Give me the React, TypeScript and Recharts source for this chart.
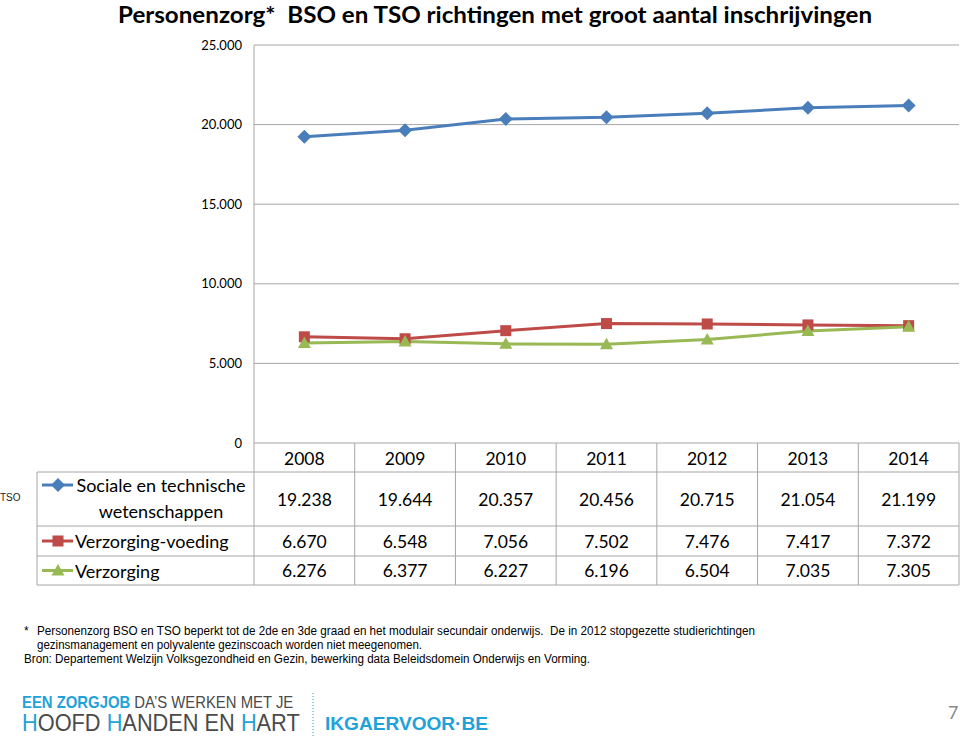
import React from "react";
import { LineChart, Line, XAxis, YAxis, CartesianGrid } from "recharts";

const years = ["2008", "2009", "2010", "2011", "2012", "2013", "2014"];
const socialeTechnische = [19238, 19644, 20357, 20456, 20715, 21054, 21199];
const verzorgingVoeding = [6670, 6548, 7056, 7502, 7476, 7417, 7372];
const verzorging = [6276, 6377, 6227, 6196, 6504, 7035, 7305];
const yTicks = [0, 5000, 10000, 15000, 20000, 25000];

const data = years.map((year, i) => ({
  year,
  sociale: socialeTechnische[i],
  voeding: verzorgingVoeding[i],
  verzorging: verzorging[i],
}));

const BLUE = "#4a7ebb";
const RED = "#be4b48";
const GREEN = "#98b954";
const GRID = "#a6a6a6";
const CYAN = "#1fa2d8";
const LOGO_GRAY = "#4a4a4a";
const FONT = "Lato, 'Open Sans', sans-serif";
const ARIAL = "'Liberation Sans', Arial, sans-serif";

const PLOT_LEFT = 254;
const PLOT_RIGHT = 959;
const PLOT_TOP = 45;
const PLOT_BOTTOM = 443;
const CHART_H = 460;
const colW = (PLOT_RIGHT - PLOT_LEFT) / years.length;

const fmt = (v: number) =>
  v === 0 ? "0" : `${Math.floor(v / 1000)}.${String(v % 1000).padStart(3, "0")}`;

const diamond = (cx: number, cy: number, color: string, key?: any) => (
  <path key={key} d={`M${cx},${cy - 7}L${cx + 7},${cy}L${cx},${cy + 7}L${cx - 7},${cy}Z`} fill={color} />
);
const square = (cx: number, cy: number, color: string, key?: any) => (
  <rect key={key} x={cx - 5.5} y={cy - 5.5} width={11} height={11} fill={color} />
);
const triangle = (cx: number, cy: number, color: string, key?: any) => (
  <path key={key} d={`M${cx},${cy - 6.5}L${cx + 6.5},${cy + 5}L${cx - 6.5},${cy + 5}Z`} fill={color} />
);

const dotOf = (shape: typeof diamond, color: string) => (props: any) => {
  const { cx, cy, index } = props;
  if (cx == null || cy == null) return <g key={index} />;
  return shape(cx, cy, color, index);
};

const rows = [
  { label: ["Sociale en technische", "wetenschappen"], values: socialeTechnische, color: BLUE, shape: diamond, top: 472, bottom: 526 },
  { label: ["Verzorging-voeding"], values: verzorgingVoeding, color: RED, shape: square, top: 526, bottom: 556 },
  { label: ["Verzorging"], values: verzorging, color: GREEN, shape: triangle, top: 556, bottom: 585 },
];

function DataTable() {
  return (
    <g fontFamily={FONT} fill="#000">
      {/* horizontale lijnen */}
      <line x1={37} x2={PLOT_RIGHT} y1={472} y2={472} stroke={GRID} />
      {rows.map((r, i) => (
        <line key={i} x1={37} x2={PLOT_RIGHT} y1={r.bottom} y2={r.bottom} stroke={GRID} />
      ))}
      {/* verticale lijnen */}
      <line x1={37} x2={37} y1={472} y2={585} stroke={GRID} />
      {years.map((_, i) => (
        <line key={i} x1={PLOT_LEFT + i * colW} x2={PLOT_LEFT + i * colW} y1={PLOT_BOTTOM} y2={585} stroke={GRID} />
      ))}
      <line x1={PLOT_RIGHT} x2={PLOT_RIGHT} y1={PLOT_BOTTOM} y2={585} stroke={GRID} />
      {years.map((y, i) => (
        <text key={y} x={PLOT_LEFT + (i + 0.5) * colW} y={458} fontSize={17.5} textAnchor="middle" dominantBaseline="central">
          {y}
        </text>
      ))}
      {rows.map((r, ri) => {
        const mid = (r.top + r.bottom) / 2;
        const keyY = r.label.length > 1 ? r.top + 13 : mid;
        return (
          <g key={ri}>
            <line x1={42} x2={73} y1={keyY} y2={keyY} stroke={r.color} strokeWidth={3} />
            {r.shape(58, keyY, r.color)}
            {r.label.length > 1 ? (
              r.label.map((t, li) => (
                <text key={li} x={161} y={r.top + 13 + li * 26} fontSize={18} textAnchor="middle" dominantBaseline="central">
                  {t}
                </text>
              ))
            ) : (
              <text x={75} y={mid} fontSize={18} dominantBaseline="central">
                {r.label[0]}
              </text>
            )}
            {r.values.map((v, i) => (
              <text key={i} x={PLOT_LEFT + (i + 0.5) * colW} y={mid} fontSize={17.5} textAnchor="middle" dominantBaseline="central">
                {fmt(v)}
              </text>
            ))}
          </g>
        );
      })}
    </g>
  );
}

function Overlay() {
  return (
    <svg width={960} height={746} style={{ position: "absolute", left: 0, top: 0 }}>
      <text
        x={118}
        y={23}
        fontFamily={FONT}
        fontWeight={700}
        fontSize={22}
        textLength={754}
        lengthAdjust="spacingAndGlyphs"
        fill="#000"
        style={{ whiteSpace: "pre" }}
      >
        {"Personenzorg*  BSO en TSO richtingen met groot aantal inschrijvingen"}
      </text>
      <text x={0} y={501} fontFamily={ARIAL} fontSize={10} fill="#222">
        TSO
      </text>
      <DataTable />
      <g fontFamily={ARIAL} fontSize={12} fill="#000">
        <text x={24} y={635}>*</text>
        <text x={37} y={635} textLength={718} lengthAdjust="spacingAndGlyphs" style={{ whiteSpace: "pre" }}>
          {"Personenzorg BSO en TSO beperkt tot de 2de en 3de graad en het modulair secundair onderwijs.  De in 2012 stopgezette studierichtingen"}
        </text>
        <text x={37} y={649} textLength={385} lengthAdjust="spacingAndGlyphs">
          gezinsmanagement en polyvalente gezinscoach worden niet meegenomen.
        </text>
        <text x={24} y={663} textLength={566} lengthAdjust="spacingAndGlyphs">
          Bron: Departement Welzijn Volksgezondheid en Gezin, bewerking data Beleidsdomein Onderwijs en Vorming.
        </text>
      </g>
      <g fontFamily={ARIAL}>
        <g transform="translate(22,708) scale(0.93,1)">
          <text x={0} y={0} fontSize={16}>
            <tspan fill={CYAN} fontWeight={700}>EEN ZORGJOB </tspan>
            <tspan fill={LOGO_GRAY}>DA’S WERKEN MET JE</tspan>
          </text>
        </g>
        <g transform="translate(22,731) scale(0.907,1)">
          <text x={0} y={0} fontSize={24} fill={LOGO_GRAY}>
            <tspan fill={CYAN}>H</tspan>
            <tspan>OOFD </tspan>
            <tspan fill={CYAN}>H</tspan>
            <tspan>ANDEN EN </tspan>
            <tspan fill={CYAN}>H</tspan>
            <tspan>ART</tspan>
          </text>
        </g>
        <line x1={313} x2={313} y1={693} y2={738} stroke={CYAN} strokeWidth={1} strokeDasharray="1 2" />
        <text x={325} y={730} fontSize={19} fontWeight={700} fill={CYAN} textLength={163} lengthAdjust="spacingAndGlyphs">
          IKGAERVOOR·BE
        </text>
      </g>
      <text x={948} y={719} fontFamily={FONT} fontSize={18} fill="#8a8a8a">
        7
      </text>
    </svg>
  );
}

export default function App() {
  return (
    <div style={{ position: "absolute", left: 0, top: 0, width: 960, height: 746, background: "#fff" }}>
      <Overlay />
      <div style={{ position: "absolute", left: 0, top: 0 }}>
        <LineChart
          width={960}
          height={CHART_H}
          data={data}
          margin={{ top: PLOT_TOP, right: 960 - PLOT_RIGHT, left: 0, bottom: CHART_H - PLOT_BOTTOM }}
        >
          <CartesianGrid vertical={false} stroke={GRID} />
          <XAxis dataKey="year" hide padding={{ left: colW / 2, right: colW / 2 }} />
          <YAxis
            width={PLOT_LEFT}
            domain={[0, 25000]}
            ticks={yTicks}
            tickFormatter={fmt}
            tickLine={false}
            tickMargin={6}
            axisLine={{ stroke: GRID }}
            tick={{ fontSize: 13, fill: "#000", fontFamily: FONT }}
          />
          <Line dataKey="sociale" stroke={BLUE} strokeWidth={3} dot={dotOf(diamond, BLUE)} isAnimationActive={false} />
          <Line dataKey="voeding" stroke={RED} strokeWidth={3} dot={dotOf(square, RED)} isAnimationActive={false} />
          <Line dataKey="verzorging" stroke={GREEN} strokeWidth={3} dot={dotOf(triangle, GREEN)} isAnimationActive={false} />
        </LineChart>
      </div>
    </div>
  );
}
